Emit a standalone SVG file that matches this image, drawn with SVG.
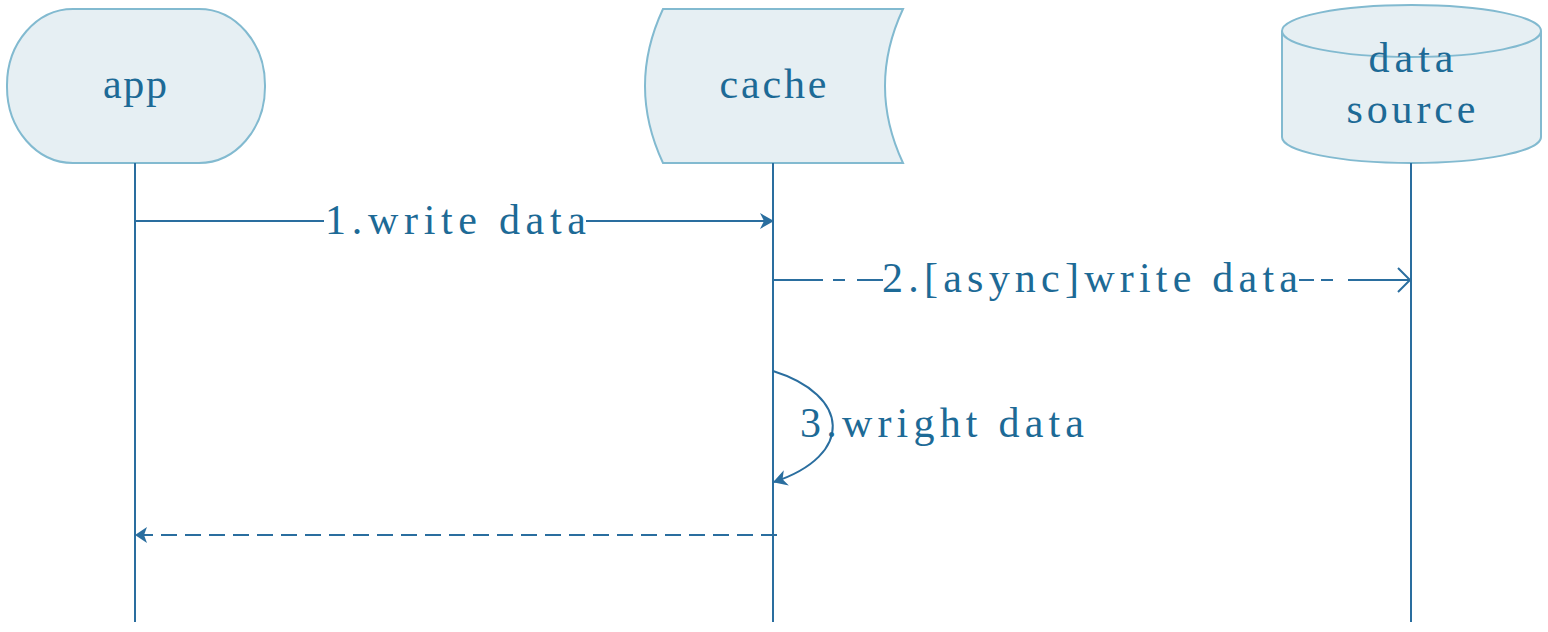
<svg xmlns="http://www.w3.org/2000/svg" width="1548" height="632" viewBox="0 0 1548 632">
<style>
.node{fill:#e6eff3;stroke:#82bad0;stroke-width:2}
.lbl{font-family:"Liberation Serif","DejaVu Serif",serif;font-size:42px;fill:#1d6a96}
.life{stroke:#2a6e9f;stroke-width:2;fill:none}
.msg{stroke:#2a6e9f;stroke-width:2;fill:none}
.dash{stroke-dasharray:16 8}
.bg{fill:#ffffff}
</style>
<defs>
<marker id="fa" viewBox="0 0 14 16" refX="13" refY="8" markerWidth="14" markerHeight="16" markerUnits="userSpaceOnUse" orient="auto">
<path d="M0,0 L14,8 L0,16 L4,8 Z" fill="#2a6e9f"/>
</marker>
<marker id="fb" viewBox="0 0 12 16" refX="11" refY="8" markerWidth="12" markerHeight="16" markerUnits="userSpaceOnUse" orient="auto">
<path d="M0,0 L12,8 L0,16 L3,8 Z" fill="#2a6e9f"/>
</marker>
</defs>
<g id="app">
<rect class="node" x="7" y="9" width="258" height="154" rx="66" ry="76"/>
<text class="lbl" x="135" y="98" text-anchor="middle" textLength="64" lengthAdjust="spacing">app</text>
</g>
<g id="cache">
<path class="node" d="M663,9 L903,9 Q867,86 903,163 L663,163 Q627,86 663,9 Z"/>
<text class="lbl" x="773" y="98" text-anchor="middle" textLength="107" lengthAdjust="spacing">cache</text>
</g>
<g id="datasource">
<path class="node" d="M1282,31 L1282,137 A129.5,26 0 0 0 1541,137 L1541,31 A129.5,26 0 0 0 1282,31 Z"/>
<path class="node" style="fill:none" d="M1282,31 A129.5,26 0 0 0 1541,31"/>
<text class="lbl" x="1411" y="72" text-anchor="middle" textLength="85" lengthAdjust="spacing">data</text>
<text class="lbl" x="1411" y="123" text-anchor="middle" textLength="129" lengthAdjust="spacing">source</text>
</g>
<g id="connectors">
<line class="life" x1="135" y1="163" x2="135" y2="622"/>
<line class="life" x1="773" y1="163" x2="773" y2="622"/>
<line class="life" x1="1411" y1="163" x2="1411" y2="622"/>
<line class="msg" x1="135" y1="221" x2="773" y2="221" marker-end="url(#fa)"/>
<rect class="bg" x="324" y="200" width="262" height="40"/>
<text class="lbl" x="325" y="234" textLength="261" lengthAdjust="spacing">1.write data</text>
<path class="msg" d="M773,280 H823 M833,280 H845 M857,280 H883 M1299,280 H1314 M1321,280 H1333 M1348,280 H1410"/>
<path class="msg" d="M1398,268 L1410,280 L1398,292"/>
<text class="lbl" x="882" y="292" textLength="416" lengthAdjust="spacing">2.[async]write data</text>
<path class="msg" d="M773,371 C850,395 855,455 774,482" marker-end="url(#fa)"/>
<text class="lbl" x="800" y="437" textLength="284" lengthAdjust="spacing">3.wright data</text>
<line class="msg dash" x1="777" y1="535" x2="136" y2="535" marker-end="url(#fb)"/>
</g>
</svg>
